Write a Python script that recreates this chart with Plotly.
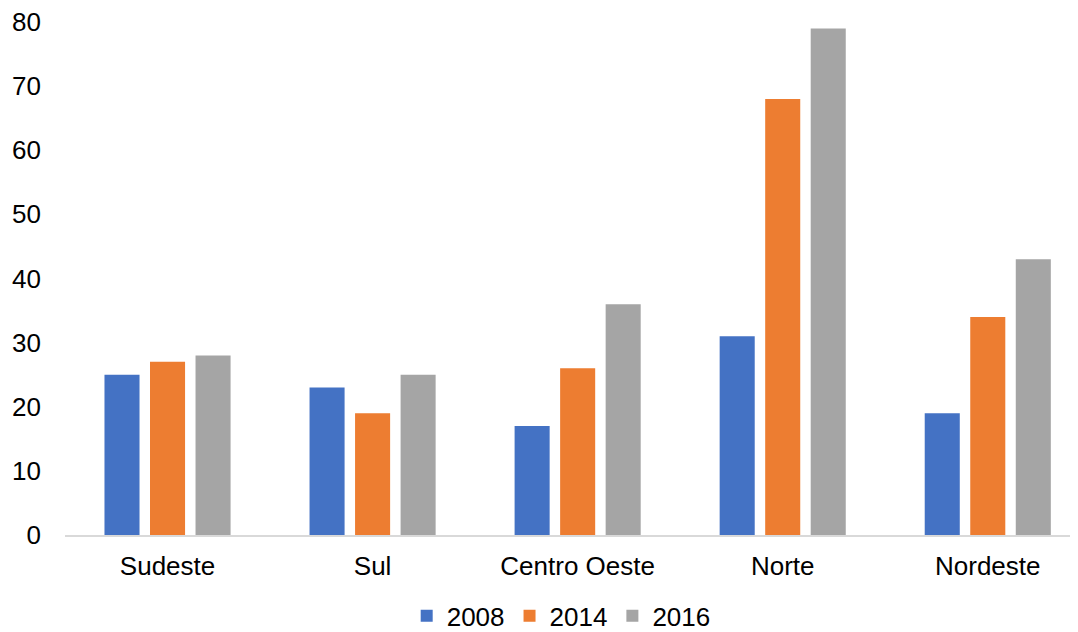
import plotly.graph_objects as go

categories = ["Sudeste", "Sul", "Centro Oeste", "Norte", "Nordeste"]
series_names = ["2008", "2014", "2016"]
v2008 = [25, 23, 17, 31, 19]
v2014 = [27, 19, 26, 68, 34]
v2016 = [28, 25, 36, 79, 43]
y_ticks = [0, 10, 20, 30, 40, 50, 60, 70, 80]

colors = ["#4472C4", "#ED7D31", "#A5A5A5"]
font = dict(family="Liberation Sans, Arial, sans-serif", size=26, color="#000000")

fig = go.Figure()
for name, vals, c in zip(series_names, [v2008, v2014, v2016], colors):
    fig.add_trace(go.Bar(x=categories, y=vals, name=name, marker=dict(color=c, line=dict(width=0))))

# page body has an 8px margin, so the figure is sized/offset to compensate
fig.update_layout(
    width=1070, height=624,
    margin=dict(l=57, r=0, t=14, b=97, autoexpand=False),
    paper_bgcolor="white", plot_bgcolor="white",
    barmode="group", bargap=0.334, bargroupgap=0.23,
    font=font,
    showlegend=True,
    legend=dict(orientation="h", xref="container", yref="container",
                x=0.517, xanchor="center", y=0.026, yanchor="middle",
                font=font, traceorder="normal"),
)
fig.update_yaxes(range=[0, 80], tickvals=y_ticks, showgrid=False, zeroline=False,
                 showline=False, ticks="", ticklabelstandoff=23, tickfont=font,
                 ticklabeloverflow="allow", automargin=False)
fig.update_xaxes(range=[-0.5, 4.44], showline=True, linecolor="#D9D9D9", linewidth=2,
                 ticks="", ticklabelstandoff=7, tickfont=font, automargin=False)

fig.write_html("out.html")
